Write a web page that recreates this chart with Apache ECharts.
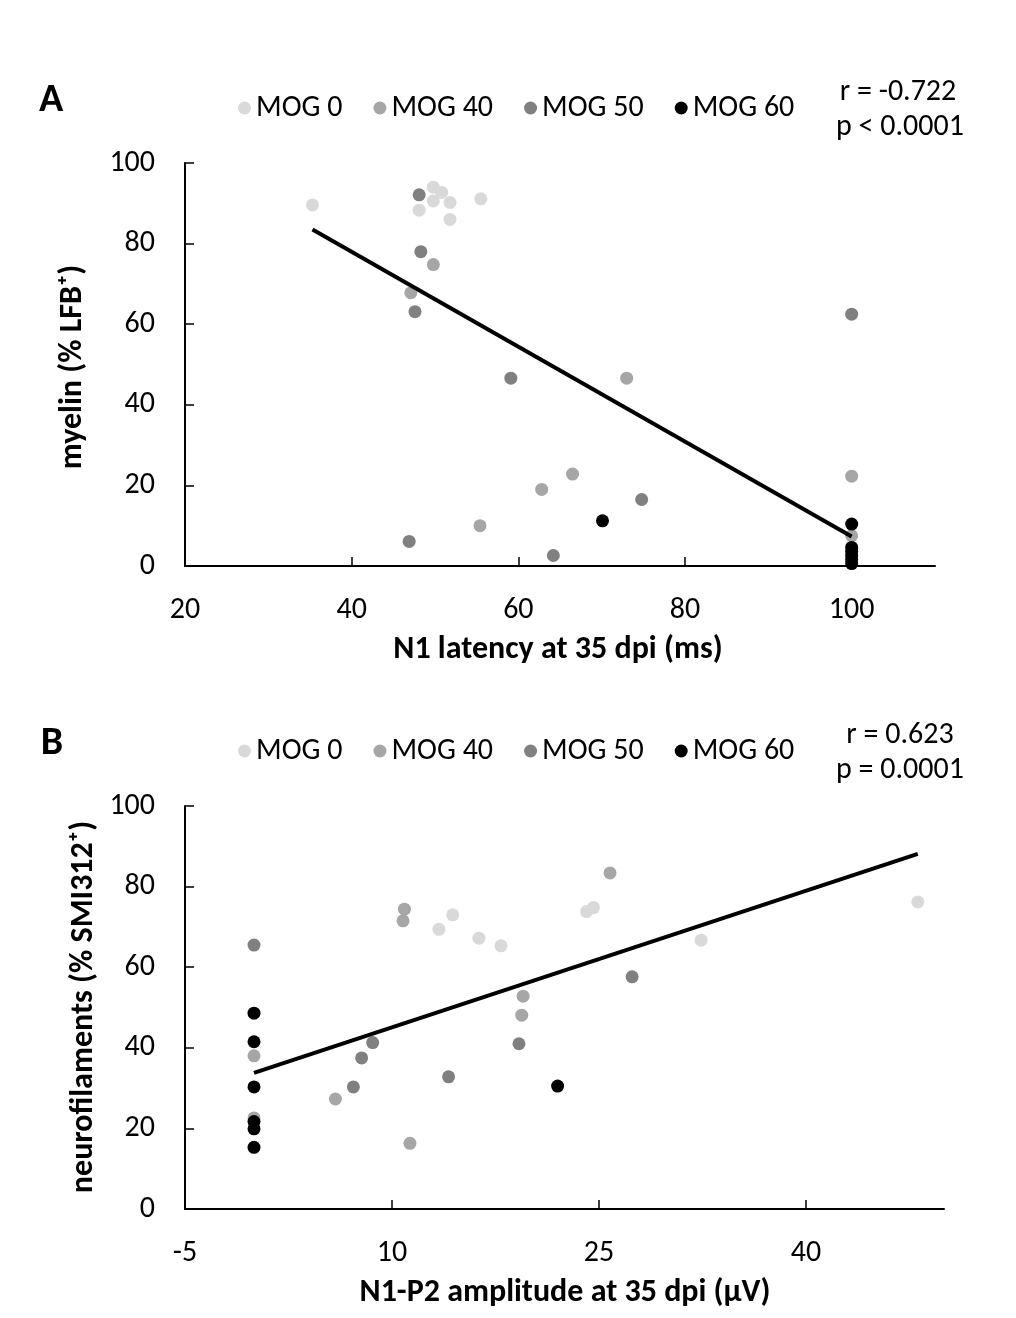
<!DOCTYPE html>
<html>
<head>
<meta charset="utf-8">
<script src="https://cdn.jsdelivr.net/npm/echarts@6/dist/echarts.min.js"></script>
<style>
  html, body { margin: 0; padding: 0; background: #fff; }
  #chart { width: 1016px; height: 1318px; }
</style>
</head>
<body>
<div id="chart"></div>
<script>
// Group names and colours
const groups = ['MOG 0', 'MOG 40', 'MOG 50', 'MOG 60'];
const groupColors = ['#d9d9d9', '#a6a6a6', '#808080', '#000000'];

// Panel A: N1 latency (ms) vs myelin (% LFB+)
const latMog0 = [[35.3, 89.6], [49.8, 94.0], [50.8, 92.7], [49.8, 90.6], [51.8, 90.2], [48.1, 88.3], [51.8, 86.0], [55.5, 91.1]];
const latMog40 = [[49.8, 74.8], [47.1, 67.8], [73.0, 46.6], [66.5, 22.8], [62.8, 19.0], [55.4, 10.0], [100, 22.3], [100, 7.5]];
const latMog50 = [[48.1, 92.1], [48.3, 78.0], [47.6, 63.1], [59.1, 46.6], [74.8, 16.5], [46.9, 6.1], [64.2, 2.6], [100, 62.5]];
const latMog60 = [[70.1, 11.2], [100, 10.4], [100, 4.6], [100, 3.6], [100, 2.6], [100, 1.6], [100, 0.6]];
const latTrend = [[35.3, 83.5], [100, 7.3]];
const latStats = ['r = -0.722', 'p < 0.0001'];

// Panel B: N1-P2 amplitude (µV) vs neurofilaments (% SMI312+)
const ampMog0 = [[14.4, 73.0], [13.4, 69.4], [16.3, 67.2], [17.9, 65.3], [24.1, 73.8], [24.6, 74.8], [32.4, 66.7], [48.1, 76.2]];
const ampMog40 = [[10.9, 74.4], [10.8, 71.5], [25.8, 83.4], [19.5, 52.8], [19.4, 48.1], [5.9, 27.3], [11.3, 16.3], [0, 38.0], [0, 22.6]];
const ampMog50 = [[0, 65.5], [7.2, 30.3], [7.8, 37.5], [8.6, 41.3], [27.4, 57.6], [19.2, 41.0], [14.1, 32.8]];
const ampMog60 = [[0, 48.6], [0, 41.5], [0, 30.3], [0, 21.7], [0, 19.9], [0, 15.3], [22.0, 30.5]];
const ampTrend = [[0, 33.8], [48.1, 88.1]];
const ampStats = ['r = 0.623', 'p = 0.0001'];

// Axis ticks
const latTicks = [20, 40, 60, 80, 100];
const ampTicks = [-5, 10, 25, 40];
const pctTicks = [0, 20, 40, 60, 80, 100];

const FONT = 'Carlito, Calibri, Roboto, sans-serif';
const INK = '#000';
const LABEL_SIZE = 30;
const TITLE_SIZE = 32;

function scatter(name, data, idx, colorIdx) {
  return {
    type: 'scatter', name: name, data: data,
    xAxisIndex: idx, yAxisIndex: idx,
    symbol: 'circle', symbolSize: 13,
    itemStyle: { color: groupColors[colorIdx], opacity: 1 },
    emphasis: { disabled: true }, z: 2
  };
}
function trend(data, idx) {
  return {
    type: 'line', name: 'trend', data: data,
    xAxisIndex: idx, yAxisIndex: idx,
    showSymbol: false, symbol: 'none',
    lineStyle: { color: '#000', width: 4 },
    emphasis: { disabled: true }, z: 3
  };
}
function xAxis(idx, min, max, ticks) {
  return {
    type: 'value', gridIndex: idx, min: min, max: max,
    axisLine: { show: true, onZero: false, lineStyle: { color: INK, width: 2 } },
    axisTick: { show: true, inside: true, length: 9, customValues: ticks, lineStyle: { color: INK, width: 1.5 } },
    axisLabel: { customValues: ticks, fontFamily: FONT, fontSize: LABEL_SIZE, color: INK, margin: 29 },
    splitLine: { show: false }
  };
}
function yAxis(idx) {
  return {
    type: 'value', gridIndex: idx, min: 0, max: 100, interval: 20,
    axisLine: { show: true, onZero: false, lineStyle: { color: INK, width: 2 } },
    axisTick: { show: true, inside: true, length: 9, customValues: pctTicks, lineStyle: { color: INK, width: 1.5 } },
    axisLabel: { customValues: pctTicks, fontFamily: FONT, fontSize: LABEL_SIZE, color: INK, margin: 30 },
    splitLine: { show: false }
  };
}
function legend(top) {
  return {
    data: groups, top: top, left: 233, orient: 'horizontal',
    icon: 'circle', itemWidth: 13, itemHeight: 13, itemGap: 31,
    selectedMode: false,
    textStyle: { fontFamily: FONT, fontSize: LABEL_SIZE, color: INK }
  };
}
function text(x, y, str, size, bold, rot) {
  return {
    type: 'text', x: x, y: y, rotation: rot || 0,
    style: {
      text: str, fill: INK, font: (bold ? 'bold ' : '') + size + 'px ' + FONT,
      align: 'center', verticalAlign: 'middle'
    }
  };
}

const chart = echarts.init(document.getElementById('chart'), null, { renderer: 'canvas' });
chart.setOption({
  animation: false,
  backgroundColor: '#fff',
  grid: [
    { left: 185, top: 163, width: 750, height: 403 },
    { left: 185, top: 806, width: 759, height: 403 }
  ],
  xAxis: [xAxis(0, 20, 110, latTicks), xAxis(1, -5, 50, ampTicks)],
  yAxis: [yAxis(0), yAxis(1)],
  legend: [legend(88), legend(731)],
  series: [
    scatter(groups[0], latMog0, 0, 0),
    scatter(groups[1], latMog40, 0, 1),
    scatter(groups[2], latMog50, 0, 2),
    scatter(groups[3], latMog60, 0, 3),
    trend(latTrend, 0),
    scatter(groups[0], ampMog0, 1, 0),
    scatter(groups[1], ampMog40, 1, 1),
    scatter(groups[2], ampMog50, 1, 2),
    scatter(groups[3], ampMog60, 1, 3),
    trend(ampTrend, 1)
  ],
  graphic: [
    text(51, 101, 'A', 40, true),
    text(52, 744, 'B', 40, true),
    text(898, 92, latStats[0], LABEL_SIZE, false),
    text(900, 127, latStats[1], LABEL_SIZE, false),
    text(900, 735, ampStats[0], LABEL_SIZE, false),
    text(900, 770, ampStats[1], LABEL_SIZE, false),
    text(558, 650, 'N1 latency at 35 dpi (ms)', TITLE_SIZE, true),
    text(565, 1293, 'N1-P2 amplitude at 35 dpi (µV)', TITLE_SIZE, true),
    text(73, 367, 'myelin (% LFB⁺)', TITLE_SIZE, true, Math.PI / 2),
    text(84, 1007, 'neurofilaments (% SMI312⁺)', TITLE_SIZE, true, Math.PI / 2)
  ]
});
</script>
</body>
</html>
